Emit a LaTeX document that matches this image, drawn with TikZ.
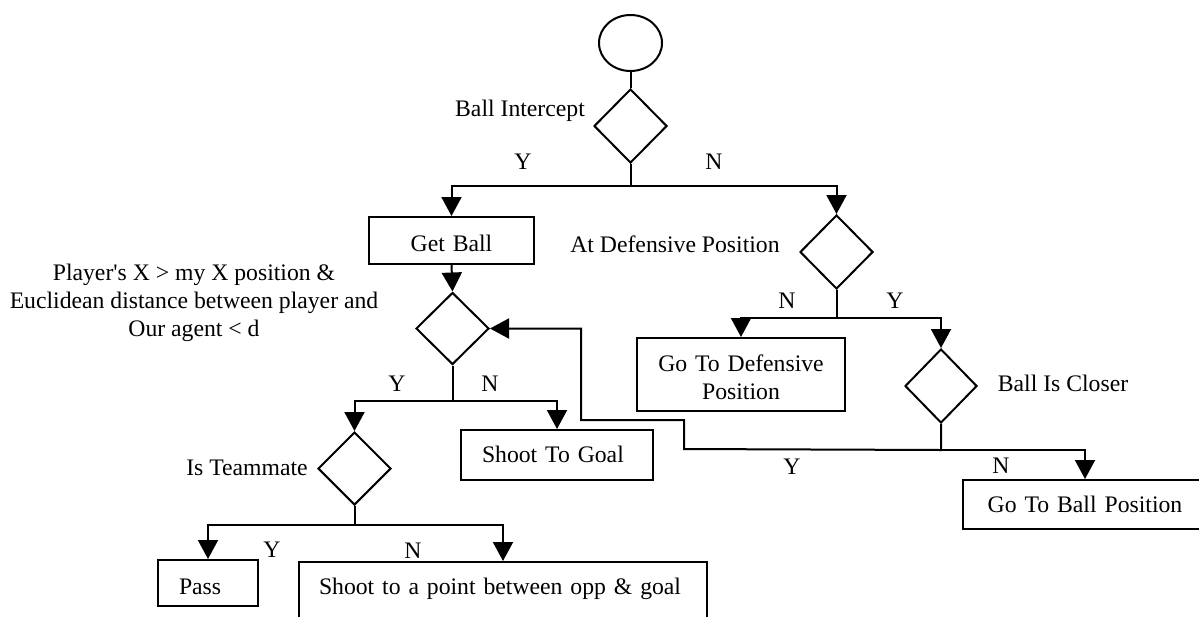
\documentclass[tikz,border=0pt]{standalone}
\usepackage{fontspec}
\setmainfont{Liberation Serif}
\usetikzlibrary{shapes.geometric,arrows.meta}
\begin{document}
\begin{tikzpicture}[x=1pt,y=-1pt,
  every node/.style={font=\fontsize{23.7}{28}\selectfont},
  ln/.style={line width=2pt},
  arr/.style={line width=2pt,-{Triangle[width=20pt,length=19pt]}},
  dec/.style={draw,diamond,line width=2pt,inner sep=0pt,minimum width=73pt,minimum height=74pt},
  bx/.style={draw,rectangle,line width=2pt,inner ysep=0pt,anchor=north west},
  lbl/.style={anchor=base,inner sep=0pt}]
\useasboundingbox (0,0) rectangle (1199,616);
\clip (0,0) rectangle (1199,616);
% nodes
\node[draw,ellipse,line width=2pt,minimum width=63pt,minimum height=56pt,inner sep=0pt] (start) at (630.5,43) {};
\node[dec] (d1) at (630.5,126) {};
\node[bx,text width=165pt,inner xsep=0pt,align=center,text height=34pt,text depth=13pt] (getball) at (368,216) {Get Ball};
\node[dec] (d2) at (836.5,252) {};
\node[dec,minimum height=72pt] (d3) at (452.5,328.5) {};
\node[bx,text width=208pt,inner xsep=0pt,align=center,text height=33pt,text depth=40pt] (gotodef) at (636,337) {Go To Defensive\\Position};
\node[dec,minimum width=72pt] (d4) at (941,386) {};
\node[bx,text width=150pt,inner xsep=21pt,align=left,text height=32pt,text depth=18pt] (shootgoal) at (460,429) {Shoot To Goal};
\node[dec,minimum height=73pt] (team) at (354.5,468.5) {};
\node[bx,text width=244pt,inner xsep=0pt,align=center,text height=32pt,text depth=17pt] (gotoball) at (962,479) {Go To Ball Position};
\node[bx,text width=58pt,inner xsep=21pt,align=left,text height=34pt,text depth=12pt] (pass) at (157,559) {Pass};
\node[bx,text width=368pt,inner xsep=20pt,align=left,text height=32pt,text depth=29pt] (shootpt) at (298,561) {Shoot to a point between opp \& goal};
% labels
\node[lbl] (tBI) at (520,116) {Ball Intercept};
\node[lbl] (tY1) at (523,169) {Y};
\node[lbl] (tN1) at (714,169) {N};
\node[lbl] (tADP) at (675,252) {At Defensive Position};
\node[anchor=base,inner sep=0pt,align=center] (tPX) at (194,336) {Player\textquotesingle s X > my X position \&\\Euclidean distance between player and\\Our agent < d};
\node[lbl] (tY2) at (397,391) {Y};
\node[lbl] (tN2) at (490,391) {N};
\node[lbl] (tN3) at (787,308) {N};
\node[lbl] (tY3) at (895,308) {Y};
\node[lbl] (tBC) at (1063,391) {Ball Is Closer};
\node[lbl] (tIT) at (247,475) {Is Teammate};
\node[lbl] (tY4) at (792,474) {Y};
\node[lbl] (tN4) at (1001,473) {N};
\node[lbl] (tY5) at (272,557) {Y};
\node[lbl] (tN5) at (413,558) {N};
% connectors
\draw[ln] (start.south) -- (d1.north);
\draw[arr] (d1.south) -- ++(0,22) -| (getball.north);
\draw[arr] (d1.south) -- ++(0,22) -| (d2.north);
\draw[arr] (getball.south) -- (d3.north);
\draw[arr] (d3.south) -- ++(0,35) -| (team.north);
\draw[arr] (d3.south) -- ++(0,35) -| (shootgoal.north);
\draw[arr] (d2.south) -- ++(0,28) -| (gotodef.north);
\draw[arr] (d2.south) -- ++(0,28) -| (d4.north);
\draw[arr] (d4.south) -- ++(0,26) -| (gotoball.north);
\draw[arr] (d4.south) -- ++(0,26) -- (684,449) -- (684,420) -- (581,420) |- (d3.east);
\draw[arr] (team.south) -- ++(0,19) -| (pass.north);
\draw[arr] (team.south) -- ++(0,19) -| (shootpt.north);
\end{tikzpicture}
\end{document}
